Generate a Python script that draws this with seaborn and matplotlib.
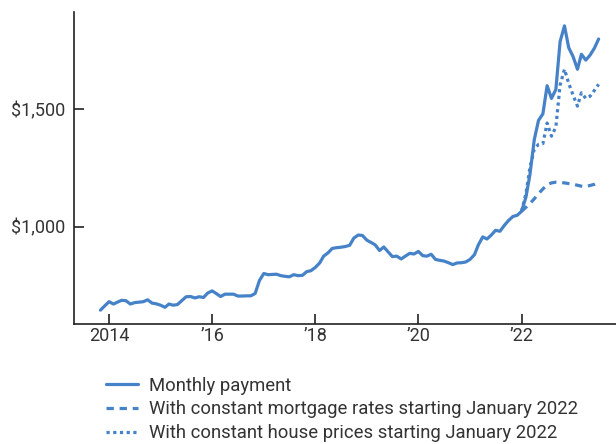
import pandas as pd
import matplotlib.pyplot as plt
import seaborn as sns

sns.set_style("white")
plt.rcParams['font.family'] = ['Roboto', 'DejaVu Sans']
plt.rcParams['text.color'] = '#333333'

blue = "#4682C8"

# monthly payment, Nov 2013 - Jul 2023
payment = [
    644, 662,
    680, 670, 678, 686, 684, 670, 676, 678, 680, 688, 674, 671,            # 2014
    665, 656, 670, 665, 668, 685, 701, 702, 696, 701, 698, 717,            # 2015
    726, 714, 702, 712, 712, 712, 704, 704, 705, 705, 715, 770,            # 2016
    800, 795, 796, 797, 791, 788, 786, 795, 791, 792, 808, 812,            # 2017
    826, 845, 874, 888, 907, 910, 912, 915, 920, 951, 964, 962,            # 2018
    942, 932, 922, 898, 913, 892, 872, 874, 862, 874, 886, 883,            # 2019
    894, 876, 874, 882, 860, 856, 853, 846, 838, 845, 846, 849,            # 2020
    860, 880, 922, 956, 947, 964, 984, 980, 1005, 1026, 1043, 1048,        # 2021
    1065, 1125, 1220, 1370, 1452, 1480, 1600, 1546, 1584, 1788, 1855, 1762,  # 2022
    1724, 1670, 1734, 1709, 1730, 1760, 1799,                             # 2023
]
# counterfactuals, Jan 2022 - Jul 2023
const_rates = [1065, 1082, 1098, 1118, 1140, 1160, 1178, 1186, 1189, 1188, 1186, 1183,
               1180, 1176, 1172, 1170, 1175, 1180, 1189]
const_prices = [1065, 1140, 1250, 1330, 1350, 1353, 1441, 1385, 1424, 1603, 1670, 1610,
                1560, 1513, 1570, 1546, 1555, 1580, 1606]

labels = ["Monthly payment",
          "With constant mortgage rates starting January 2022",
          "With constant house prices starting January 2022"]

dates = pd.date_range("2013-11-01", periods=len(payment), freq="MS")
dates22 = pd.date_range("2022-01-01", periods=len(const_rates), freq="MS")

df = pd.concat([
    pd.DataFrame({"date": dates, "value": payment, "series": labels[0]}),
    pd.DataFrame({"date": dates22, "value": const_rates, "series": labels[1]}),
    pd.DataFrame({"date": dates22, "value": const_prices, "series": labels[2]}),
])

fig = plt.figure(figsize=(6.16, 4.44), dpi=100)
ax = fig.add_axes([0.1200, 0.2703, 0.8800, 0.7027])

sns.lineplot(data=df, x="date", y="value", style="series", style_order=labels,
             dashes=["", (2.3, 1.8), (1.0, 1.1)], color=blue, linewidth=2.3,
             ax=ax, legend=True)

ax.set_xlim(pd.Timestamp("2013-04-27"), pd.Timestamp("2023-11-01"))
ax.set_ylim(585, 1914)
ax.set_yticks([1000, 1500])
ax.set_yticklabels(["$1,000", "$1,500"])
ticks = [pd.Timestamp(f"{y}-01-01") for y in [2014, 2016, 2018, 2020, 2022]]
ax.set_xticks(ticks)
ax.set_xticklabels(["2014", "\u201916", "\u201918", "\u201920", "\u201922"])
ax.set(xlabel=None, ylabel=None)

for s in ["top", "right"]:
    ax.spines[s].set_visible(False)
for s in ["left", "bottom"]:
    ax.spines[s].set_color("#222222")
    ax.spines[s].set_linewidth(1.2)
ax.tick_params(axis="both", which="major", bottom=True, left=True,
               direction="in", length=7, width=1.2, color="#222222",
               labelsize=13, labelcolor="#333333")
ax.tick_params(axis="x", pad=2)
ax.tick_params(axis="y", pad=6)

handles, lbls = ax.get_legend_handles_labels()
ax.get_legend().remove()
fig.legend(handles, lbls, loc="upper left", bbox_to_anchor=(0.172, 0.152),
           frameon=False, fontsize=13.3, handlelength=1.75, handletextpad=0.6,
           labelspacing=0.32, borderaxespad=0, borderpad=0)

fig.savefig("out.png", dpi=100)
